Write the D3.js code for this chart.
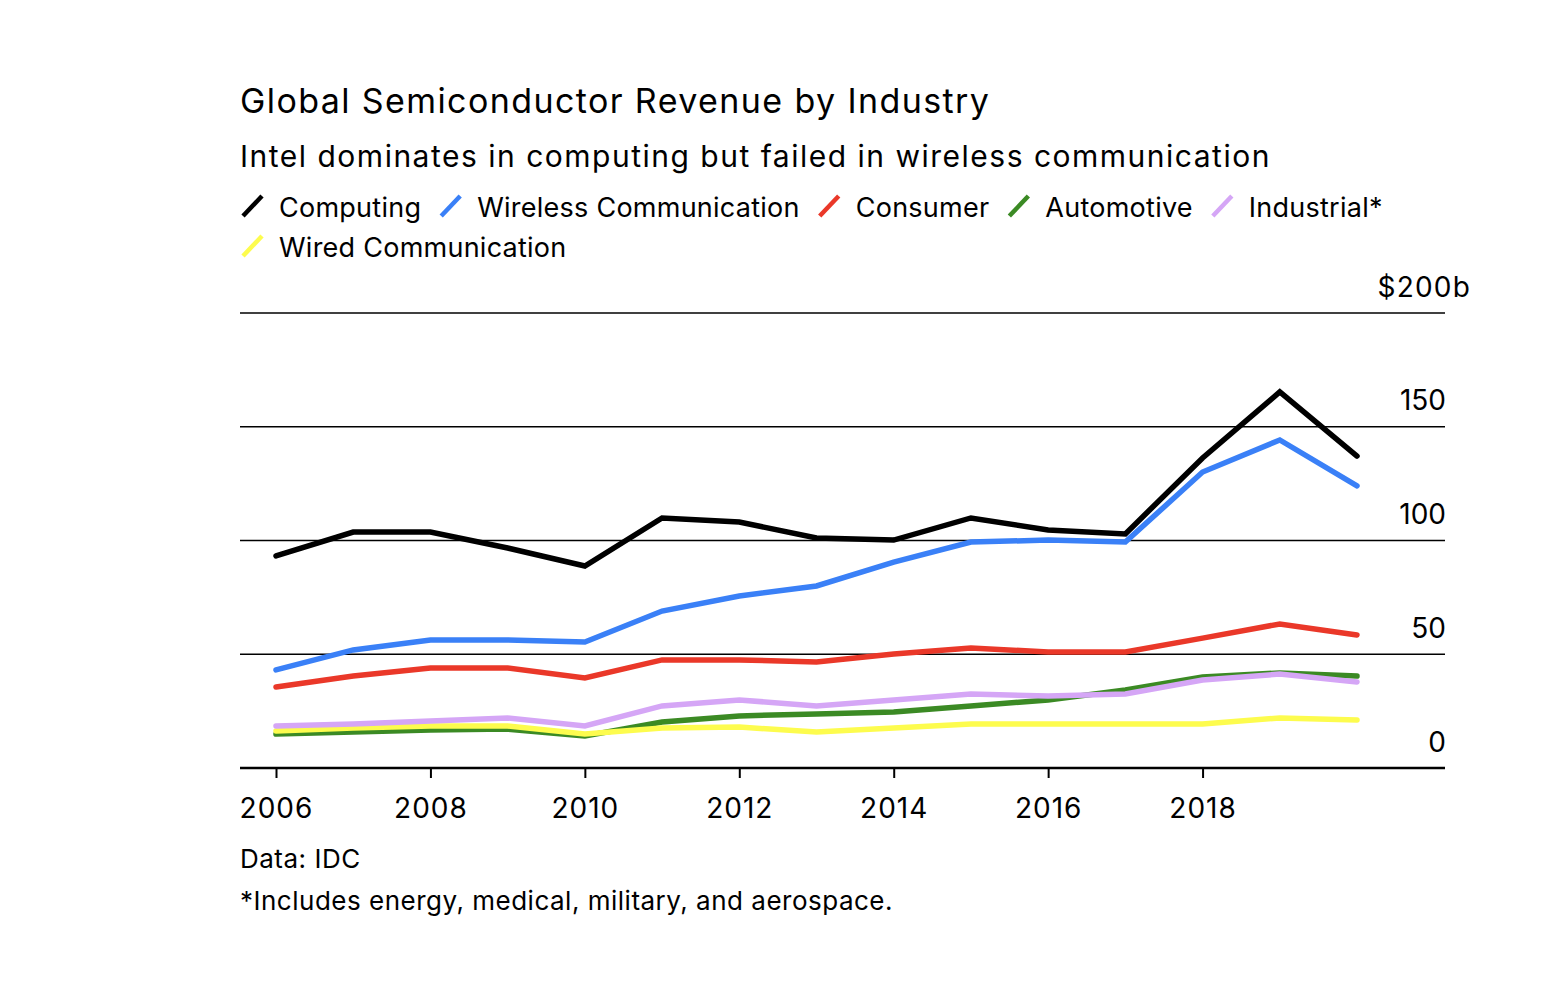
<!DOCTYPE html>
<html>
<head>
<meta charset="utf-8">
<script src="https://cdn.jsdelivr.net/npm/d3@7"></script>
<style>
  body { margin: 0; background: #fff; }
  svg text { font-family: Inter, "Liberation Sans", Arial, sans-serif; fill: #000; }
</style>
</head>
<body>
<svg id="chart" width="1550" height="995"></svg>
<script>
// Data (billions USD)
const years = [2006, 2007, 2008, 2009, 2010, 2011, 2012, 2013, 2014, 2015, 2016, 2017, 2018, 2019, 2020];
const computing = [93.2, 103.7, 103.7, 96.7, 88.8, 109.9, 108.1, 101.1, 100.2, 109.9, 104.6, 102.9, 136.3, 165.3, 137.1];
const wireless = [43.1, 51.9, 56.3, 56.3, 55.4, 69.0, 75.6, 80.0, 90.5, 99.3, 100.2, 99.3, 130.1, 144.2, 124.0];
const consumer = [35.6, 40.4, 44.0, 44.0, 39.6, 47.5, 47.5, 46.6, 50.1, 52.7, 51.0, 51.0, 57.1, 63.3, 58.5];
const automotive = [14.9, 15.8, 16.7, 17.1, 14.1, 20.2, 22.9, 23.7, 24.6, 27.3, 29.9, 34.3, 40.0, 41.8, 40.4];
const industrial = [18.5, 19.3, 20.7, 22.0, 18.5, 27.3, 29.9, 27.3, 29.9, 32.5, 31.6, 32.5, 38.7, 41.3, 37.8];
const wired = [16.3, 17.6, 18.5, 18.5, 14.9, 17.6, 18.0, 15.8, 17.6, 19.3, 19.3, 19.3, 19.3, 22.0, 21.1];

const legendNames = ["Computing", "Wireless Communication", "Consumer", "Automotive", "Industrial*", "Wired Communication"];
const seriesColors = ["#000000", "#3a80f7", "#ea3829", "#3b8a24", "#d5a6f6", "#fdfc4e"];
const seriesValues = [computing, wireless, consumer, automotive, industrial, wired];
const xTicks = [2006, 2008, 2010, 2012, 2014, 2016, 2018];
const yTicks = [0, 50, 100, 150, 200];

const font = 'Inter, "Liberation Sans", Arial, sans-serif';
const svg = d3.select('#chart');

// Titles
svg.append('text').attr('x', 240).attr('y', 113).attr('font-size', 34).attr('letter-spacing', 1.4)
    .text('Global Semiconductor Revenue by Industry');
svg.append('text').attr('x', 240).attr('y', 167).attr('font-size', 30).attr('letter-spacing', 1.5)
    .text('Intel dominates in computing but failed in wireless communication');

// Legend (wraps to a second row)
const legend = svg.append('g');
let lx = 243, ly = 217;
legendNames.forEach((name, i) => {
    const g = legend.append('g');
    const t = g.append('text').attr('font-size', 27).attr('letter-spacing', 0.25).text(name);
    const w = t.node().getComputedTextLength();
    if (lx + 36 + w > 1450) { lx = 243; ly += 40; }
    g.append('line')
        .attr('x1', lx).attr('y1', ly - 1)
        .attr('x2', lx + 19).attr('y2', ly - 21)
        .attr('stroke', seriesColors[i]).attr('stroke-width', 4.5);
    t.attr('x', lx + 36).attr('y', ly);
    lx += 36 + w + 20;
});

// Scales
const x = d3.scaleLinear().domain([2006, 2020]).range([276, 1357]);
const y = d3.scaleLinear().domain([0, 200]).range([768, 313]);
const left = 240, right = 1445;

// Grid lines
svg.append('g')
    .selectAll('line')
    .data(yTicks.filter(d => d > 0))
    .enter()
    .append('line')
    .attr('x1', left).attr('x2', right)
    .attr('y1', d => y(d)).attr('y2', d => y(d))
    .attr('stroke', '#000').attr('stroke-width', 1.5);

// Y labels
const yAxis = svg.append('g')
    .attr('transform', `translate(${right + 1},-17)`)
    .call(d3.axisLeft(y).tickValues(yTicks).tickSize(0).tickPadding(0)
        .tickFormat(d => d === 200 ? '$200b' : d));
yAxis.select('.domain').remove();
yAxis.selectAll('text')
    .attr('font-size', 28)
    .attr('font-family', font)
    .attr('fill', '#000')
    .attr('dy', 0)
    .attr('letter-spacing', d => d === 200 ? 1.2 : 0)
    .attr('dx', d => d === 200 ? 25 : 0);

// Series lines
const line = d3.line()
    .x((d, i) => x(years[i]))
    .y(d => y(d));

const drawOrder = [3, 5, 4, 2, 1, 0];
svg.append('g')
    .selectAll('path')
    .data(drawOrder)
    .enter()
    .append('path')
    .attr('d', i => line(seriesValues[i]))
    .attr('fill', 'none')
    .attr('stroke', i => seriesColors[i])
    .attr('stroke-width', 5.5)
    .attr('stroke-linejoin', 'miter')
    .attr('stroke-linecap', 'round');

// X axis
const xAxis = svg.append('g')
    .attr('transform', `translate(0,${y(0)})`)
    .call(d3.axisBottom(x).tickValues(xTicks).tickSize(10).tickPadding(20).tickFormat(d3.format('d')));
xAxis.select('.domain').remove();
xAxis.selectAll('.tick line').attr('stroke', '#000').attr('stroke-width', 2);
xAxis.selectAll('text')
    .attr('font-size', 28)
    .attr('letter-spacing', 1)
    .attr('font-family', font)
    .attr('fill', '#000');
svg.append('line')
    .attr('x1', left).attr('x2', right)
    .attr('y1', y(0)).attr('y2', y(0))
    .attr('stroke', '#000').attr('stroke-width', 2.5);

// Footer
svg.append('text').attr('x', 240).attr('y', 868).attr('font-size', 26).attr('letter-spacing', 0.5).text('Data: IDC');
svg.append('text').attr('x', 240).attr('y', 910).attr('font-size', 26).attr('letter-spacing', 0.5)
    .text('*Includes energy, medical, military, and aerospace.');
</script>
</body>
</html>
